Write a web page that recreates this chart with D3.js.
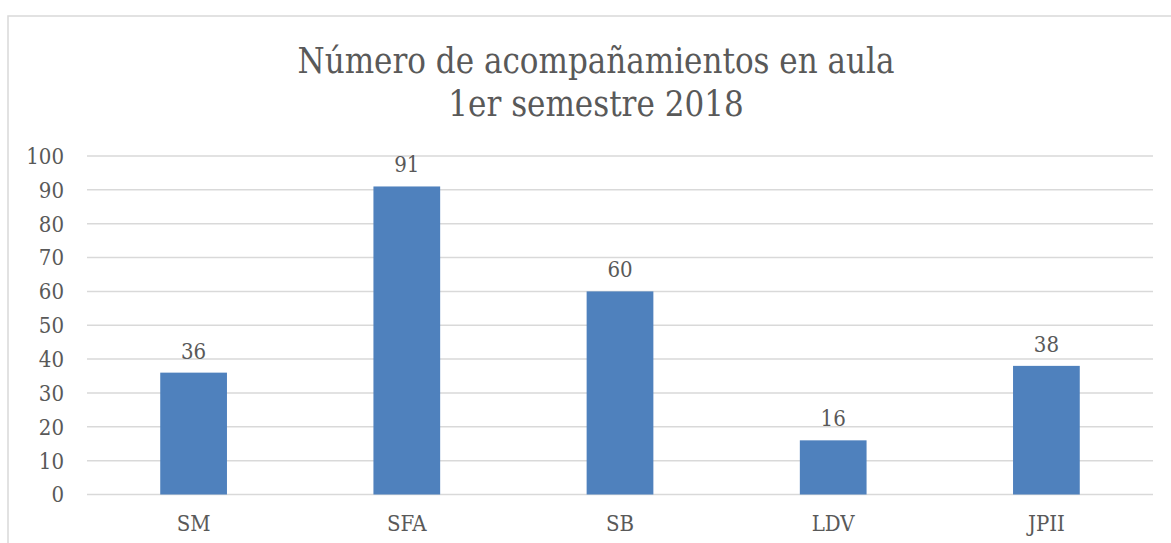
<!DOCTYPE html>
<html>
<head>
<meta charset="utf-8">
<script src="https://cdn.jsdelivr.net/npm/d3@7"></script>
<style>
  html, body { margin: 0; padding: 0; background: #fff; }
  svg { display: block; }
  text { font-family: "DejaVu Serif Condensed", "DejaVu Serif", serif; font-stretch: condensed; fill: #595959; }
</style>
</head>
<body>
<svg id="chart" width="1171" height="543"></svg>
<script>
// données du graphique
var categories = ["SM", "SFA", "SB", "LDV", "JPII"];
var values = [36, 91, 60, 16, 38];
var yTicks = [0, 10, 20, 30, 40, 50, 60, 70, 80, 90, 100];
var titleLines = ["Número de acompañamientos en aula", "1er semestre 2018"];

var svg = d3.select("#chart");

// cadre du graphique
svg.append("rect")
    .attr("x", 8).attr("y", 16)
    .attr("width", 1200).attr("height", 600)
    .attr("fill", "none")
    .attr("stroke", "#d9d9d9")
    .attr("stroke-width", 1.5);

// échelles
var xScale = d3.scaleBand()
    .domain(categories)
    .range([87, 1153])
    .padding(0);

var yScale = d3.scaleLinear()
    .domain([0, 100])
    .range([494.5, 156]);

var barW = xScale.bandwidth() * 0.313;

// lignes de grille
svg.append("g")
    .selectAll("line")
    .data(yTicks)
    .enter()
    .append("line")
    .attr("x1", 87).attr("x2", 1153)
    .attr("y1", d => yScale(d)).attr("y2", d => yScale(d))
    .attr("stroke", "#d9d9d9")
    .attr("stroke-width", 1.5);

// étiquettes de l'axe y
svg.append("g")
    .selectAll("text")
    .data(yTicks)
    .enter()
    .append("text")
    .attr("x", 64)
    .attr("y", d => yScale(d))
    .attr("dy", "0.36em")
    .attr("text-anchor", "end")
    .style("font-size", "22px")
    .text(d => d);

// barres
svg.append("g")
    .selectAll("rect")
    .data(values)
    .enter()
    .append("rect")
    .attr("x", (d, i) => xScale(categories[i]) + xScale.bandwidth() / 2 - barW / 2)
    .attr("y", d => yScale(d))
    .attr("width", barW)
    .attr("height", d => yScale(0) - yScale(d))
    .attr("fill", "#4f81bd");

// valeurs au-dessus des barres
svg.append("g")
    .selectAll("text")
    .data(values)
    .enter()
    .append("text")
    .attr("x", (d, i) => xScale(categories[i]) + xScale.bandwidth() / 2)
    .attr("y", d => yScale(d) - 14)
    .attr("text-anchor", "middle")
    .style("font-size", "22px")
    .text(d => d);

// étiquettes de l'axe x
svg.append("g")
    .selectAll("text")
    .data(categories)
    .enter()
    .append("text")
    .attr("x", d => xScale(d) + xScale.bandwidth() / 2)
    .attr("y", 531)
    .attr("text-anchor", "middle")
    .style("font-size", "22px")
    .text(d => d);

// titre
svg.append("g")
    .selectAll("text")
    .data(titleLines)
    .enter()
    .append("text")
    .attr("x", 596)
    .attr("y", (d, i) => 73 + i * 43)
    .attr("text-anchor", "middle")
    .style("font-size", "34.5px")
    .text(d => d);
</script>
</body>
</html>
